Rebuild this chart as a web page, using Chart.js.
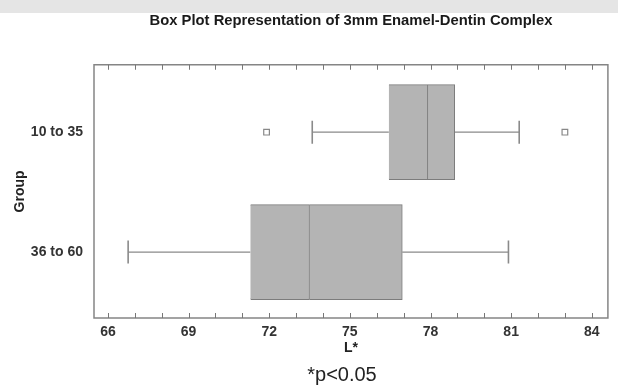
<!DOCTYPE html>
<html lang="en">
<head>
    <meta charset="UTF-8">
    <title>Box Plot L*</title>
    <script src="https://cdn.jsdelivr.net/npm/chart.js"></script>
    <style>
        body{
            margin: 0;
            background-color: white;
            overflow: hidden;
        }
        .wrap{
            position: relative;
            width: 618px;
            height: 392px;
            overflow: hidden;
            background: linear-gradient(#e5e5e5 0, #e5e5e5 13px, white 13px);
        }
        canvas{
            display: block;
        }
        .note{
            position: absolute;
            left: 282px;
            width: 120px;
            top: 363px;
            text-align: center;
            font-family: Arial, "Liberation Sans", sans-serif;
            font-size: 20px;
            color: #222;
        }
    </style>
</head>
<body>
<div class="wrap">
    <canvas id="box" width="621" height="392"></canvas>
    <div class="note">*p&lt;0.05</div>
</div>
<script>
    // groups, top to bottom
    const groups = ["10 to 35", "36 to 60"];
    const whiskerLow  = [73.6, 66.75];
    const q1          = [76.45, 71.3];
    const median      = [77.9, 73.5];
    const q3          = [78.9, 76.95];
    const whiskerHigh = [81.3, 80.9];
    const means       = [77.8, 73.9];
    const outliers    = [[71.9, 83.0], []];
    const xTicks = [66, 67, 68, 69, 70, 71, 72, 73, 74, 75, 76, 77, 78, 79, 80, 81, 82, 83, 84];

    const grey = "#7c7c7c";
    const fill = "#b4b4b4";
    const font = "Arial, 'Liberation Sans', sans-serif";

    const datasets = [];
    datasets.push({
        type: "bar",
        data: groups.map((g, i) => ({y: i, x: [q1[i], median[i]]})),
        backgroundColor: fill, borderColor: grey, borderWidth: 1,
        barThickness: 95, grouped: false
    });
    datasets.push({
        type: "bar",
        data: groups.map((g, i) => ({y: i, x: [median[i], q3[i]]})),
        backgroundColor: fill, borderColor: grey, borderWidth: 1,
        barThickness: 95, grouped: false
    });
    groups.forEach((g, i) => {
        // whiskers
        datasets.push({type: "line", data: [{x: whiskerLow[i], y: i}, {x: q1[i], y: i}],
            borderColor: "#8a8a8a", borderWidth: 1.3, pointRadius: 0});
        datasets.push({type: "line", data: [{x: q3[i], y: i}, {x: whiskerHigh[i], y: i}],
            borderColor: "#8a8a8a", borderWidth: 1.3, pointRadius: 0});
        // caps
        datasets.push({type: "scatter", data: [{x: whiskerLow[i], y: i}, {x: whiskerHigh[i], y: i}],
            pointStyle: "line", rotation: 90, radius: 11.5, borderColor: "#8a8a8a", borderWidth: 1.6});
        // mean
        datasets.push({type: "scatter", data: [{x: means[i], y: i}],
            pointStyle: "cross", radius: 2.5, borderColor: "#666", borderWidth: 1.2});
        // outliers
        datasets.push({type: "scatter", data: outliers[i].map(v => ({x: v, y: i})),
            pointStyle: "rect", radius: 4, backgroundColor: "white", borderColor: "#888", borderWidth: 1.2});
    });

    const frame = {
        id: "frame",
        afterDraw(chart) {
            const ctx = chart.ctx;
            const a = chart.chartArea;
            const xs = chart.scales.x;
            ctx.save();
            ctx.strokeStyle = "#858585";
            ctx.lineWidth = 1.5;
            ctx.strokeRect(a.left, a.top, a.right - a.left, a.bottom - a.top);
            ctx.lineWidth = 1;
            ctx.strokeStyle = "#777";
            xTicks.forEach(v => {
                const px = Math.round(xs.getPixelForValue(v)) + 0.5;
                ctx.beginPath();
                ctx.moveTo(px, a.bottom); ctx.lineTo(px, a.bottom - 5);
                ctx.moveTo(px, a.top); ctx.lineTo(px, a.top + 5);
                ctx.stroke();
            });
            ctx.restore();
        }
    };

    new Chart(document.getElementById("box"), {
        data: {datasets: datasets},
        options: {
            indexAxis: "y",
            responsive: false,
            animation: false,
            layout: {padding: {left: 0, right: 0, top: 0, bottom: 0}},
            plugins: {
                legend: {display: false},
                tooltip: {enabled: false},
                title: {
                    display: true,
                    fullSize: false,
                    text: "Box Plot Representation of 3mm Enamel-Dentin Complex",
                    color: "#1a1a1a",
                    font: {family: font, size: 14.8, weight: "bold"},
                    padding: {top: 12.5, bottom: 34.5}
                }
            },
            scales: {
                x: {
                    type: "linear",
                    min: 65.48,
                    max: 84.6,
                    afterBuildTicks: s => { s.ticks = xTicks.map(v => ({value: v})); },
                    afterFit: s => { s.height = 74; s.paddingLeft = 0; s.paddingRight = 0; },
                    grid: {display: false, drawTicks: false},
                    border: {display: false},
                    ticks: {
                        padding: 6,
                        color: "#333",
                        font: {family: font, size: 14, weight: "bold"},
                        callback: v => ((v - 66) % 3 === 0 ? String(v) : "")
                    },
                    title: {
                        display: true, text: "L*", color: "#222",
                        font: {family: font, size: 14, weight: "bold"},
                        padding: {top: 0, bottom: 35}
                    }
                },
                y: {
                    type: "linear",
                    reverse: true,
                    offset: false,
                    min: -0.5625,
                    max: 1.55,
                    afterBuildTicks: s => { s.ticks = groups.map((g, i) => ({value: i})); },
                    afterFit: s => { s.width = 94; },
                    grid: {display: false, drawTicks: false},
                    border: {display: false},
                    ticks: {
                        padding: 11,
                        color: "#333",
                        font: {family: font, size: 14, weight: "bold"},
                        callback: v => groups[v]
                    },
                    title: {
                        display: true, text: "Group", color: "#222",
                        font: {family: font, size: 14, weight: "bold"},
                        padding: {top: 11.5, bottom: 0}
                    }
                }
            }
        },
        plugins: [frame]
    });
</script>
</body>
</html>
